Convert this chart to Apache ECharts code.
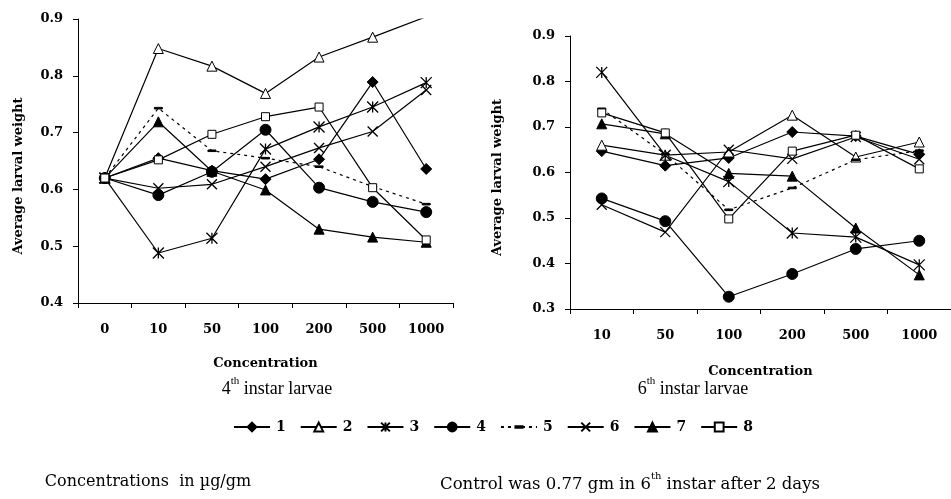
<!DOCTYPE html>
<html><head><meta charset="utf-8">
<script src="https://cdn.jsdelivr.net/npm/echarts@6/dist/echarts.min.js"></script>
<style>html,body{margin:0;padding:0;background:#fff}#c{width:951px;height:499px}</style>
</head><body><div id="c"></div>
<script>
// Categories
var catsLeft = ['0', '10', '50', '100', '200', '500', '1000'];
var catsRight = ['10', '50', '100', '200', '500', '1000'];
var seriesNames = ['1', '2', '3', '4', '5', '6', '7', '8'];
var yTicksLeft = [0.4, 0.5, 0.6, 0.7, 0.8, 0.9];
var yTicksRight = [0.3, 0.4, 0.5, 0.6, 0.7, 0.8, 0.9];

// 4th instar larvae (left)
var s1L = [0.62, 0.655, 0.633, 0.618, 0.653, 0.789, 0.636];
var s2L = [0.62, 0.848, 0.817, 0.769, 0.833, 0.868, 0.904];
var s3L = [0.62, 0.488, 0.514, 0.671, 0.710, 0.745, 0.788];
var s4L = [0.62, 0.590, 0.631, 0.705, 0.603, 0.578, 0.560];
var s5L = [0.62, 0.743, 0.668, 0.655, 0.640, 0.605, 0.574];
var s6L = [0.62, 0.602, 0.609, 0.640, 0.673, 0.702, 0.775];
var s7L = [0.62, 0.719, 0.632, 0.599, 0.530, 0.516, 0.507];
var s8L = [0.62, 0.652, 0.697, 0.728, 0.745, 0.603, 0.511];

// 6th instar larvae (right)
var s1R = [0.647, 0.615, 0.632, 0.689, 0.680, 0.640];
var s2R = [0.660, 0.638, 0.645, 0.726, 0.634, 0.667];
var s3R = [0.820, 0.638, 0.580, 0.467, 0.458, 0.397];
var s4R = [0.543, 0.493, 0.327, 0.377, 0.432, 0.450];
var s5R = [0.740, 0.640, 0.518, 0.566, 0.628, 0.648];
var s6R = [0.529, 0.469, 0.650, 0.630, 0.678, 0.629];
var s7R = [0.707, 0.685, 0.598, 0.592, 0.478, 0.375];
var s8R = [0.731, 0.687, 0.498, 0.647, 0.682, 0.608];

var leftData = [s1L, s2L, s3L, s4L, s5L, s6L, s7L, s8L];
var rightData = [s1R, s2R, s3R, s4R, s5R, s6R, s7R, s8R];

var SERIF = '"Liberation Serif", "Times New Roman", serif';
var WSERIF = '"DejaVu Serif", serif';
var BK = '#000';

var styles = [
  {symbol: 'diamond', size: 11, fill: BK, dash: 'solid'},
  {symbol: 'triangle', size: 10, fill: '#fff', dash: 'solid'},
  {symbol: 'path://M0,0L10,10M10,0L0,10M5,0L5,10', size: 11, fill: BK, dash: 'solid', stroke: 1.3},
  {symbol: 'circle', size: 11, fill: BK, dash: 'solid'},
  {symbol: 'path://M0,0L0,0ZM1,4.2L9,4.2L9,5.8L1,5.8ZM10,10L10,10Z', size: 10, fill: BK, dash: [3, 4]},
  {symbol: 'path://M0,0L10,10M10,0L0,10', size: 10, fill: BK, dash: 'solid', stroke: 1.3},
  {symbol: 'triangle', size: 10, fill: BK, dash: 'solid'},
  {symbol: 'rect', size: 8, fill: '#fff', dash: 'solid'}
];

function mk(idx, data, axisIdx) {
  var st = styles[idx];
  return {
    name: seriesNames[idx], type: 'line', data: data,
    xAxisIndex: axisIdx, yAxisIndex: axisIdx,
    symbol: st.symbol, symbolSize: st.size, showAllSymbol: true,
    clip: true, animation: false,
    lineStyle: {color: BK, width: 1.2, type: st.dash},
    itemStyle: {color: st.fill, borderColor: BK, borderWidth: st.stroke || 1},
    emphasis: {disabled: true}
  };
}

var series = [];
for (var i = 0; i < 8; i++) series.push(mk(i, leftData[i], 0));
for (var j = 0; j < 8; j++) series.push(mk(j, rightData[j], 1));

var axisLabelStyle = {color: BK, fontFamily: WSERIF, fontWeight: 'bold', fontSize: 13};
var axisLineStyle = {lineStyle: {color: BK, width: 1}};

function xAx(cats, gridIdx, gap) {
  return {
    type: 'category', data: cats, gridIndex: gridIdx, boundaryGap: true,
    axisLine: axisLineStyle,
    axisTick: {show: true, length: 5, inside: false, lineStyle: {color: BK}},
    axisLabel: Object.assign({margin: 20}, axisLabelStyle),
    name: 'Concentration', nameLocation: 'middle', nameGap: gap,
    nameTextStyle: {color: BK, fontFamily: WSERIF, fontWeight: 'bold', fontSize: 13}
  };
}
function yAx(ticks, gridIdx, gap, shift) {
  return {
    type: 'value', gridIndex: gridIdx, min: ticks[0], max: ticks[ticks.length - 1], interval: 0.1,
    axisLine: {show: true, lineStyle: {color: BK, width: 1}},
    axisTick: {show: true, length: 5, lineStyle: {color: BK}},
    splitLine: {show: false},
    axisLabel: Object.assign({margin: 15, formatter: function (v) { return v.toFixed(1); }}, axisLabelStyle),
    name: 'Average larval weight', nameLocation: 'middle', nameRotate: 90, nameGap: gap,
    nameTextStyle: {color: BK, fontFamily: WSERIF, fontWeight: 'bold', fontSize: 13, padding: [0, shift, 0, 0]}
  };
}

function supText(x, y, pre, post, fam, fs) {
  return {type: 'text', x: x, y: y, style: {
    text: '{n|' + pre + '}{s|th}{n|' + post + '}', align: 'center', verticalAlign: 'middle',
    rich: {n: {fontFamily: fam, fontSize: fs, fill: BK, lineHeight: 22, verticalAlign: 'bottom'},
           s: {fontFamily: fam, fontSize: Math.round(fs * 0.62), fill: BK, lineHeight: 22, verticalAlign: 'top'}}
  }};
}

var option = {
  backgroundColor: '#fff',
  animation: false,
  grid: [
    {left: 78, right: 498, top: 19, bottom: 196},
    {left: 570, right: -7, top: 36, bottom: 190}
  ],
  xAxis: [xAx(catsLeft, 0, 54), xAx(catsRight, 1, 56)],
  yAxis: [yAx(yTicksLeft, 0, 53, 30), yAx(yTicksRight, 1, 66, 10)],
  legend: {
    data: seriesNames, left: 228, top: 415, itemWidth: 36, itemHeight: 11, itemGap: 14,
    selectedMode: false,
    textStyle: {color: BK, fontFamily: WSERIF, fontWeight: 'bold', fontSize: 14, padding: [0, 0, 0, 1]}
  },
  graphic: [
    supText(277, 387, '4', ' instar larvae', SERIF, 18),
    supText(693, 387, '6', ' instar larvae', SERIF, 18),
    {type: 'text', x: 148, y: 482, style: {
      text: 'Concentrations  in \u00b5g/gm', align: 'center', verticalAlign: 'middle',
      font: '16px ' + WSERIF, fill: BK
    }},
    supText(630, 482, 'Control was 0.77 gm in 6', ' instar after 2 days', WSERIF, 16.5)
  ],
  series: series
};

var chart = echarts.init(document.getElementById('c'), null, {renderer: 'canvas'});
chart.setOption(option);
</script></body></html>
